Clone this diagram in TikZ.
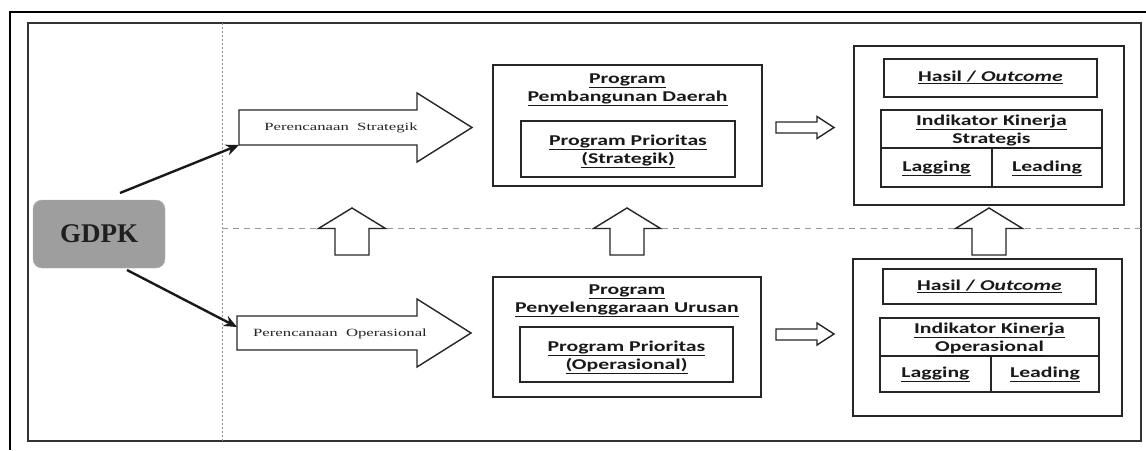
\documentclass[tikz,border=0pt]{standalone}
\usepackage{fontspec}
\setmainfont{Carlito}
\newfontfamily\serifface{Liberation Serif}
\usepackage{graphicx}
\usetikzlibrary{arrows.meta,calc,fit}

% horizontally widened, centred block of lines
\newcommand\wideblock[2]{\scalebox{#1}[1]{\begin{tabular}{@{}c@{}}#2\end{tabular}}}
\newcommand\uln[1]{\underline{#1}}

\begin{document}
\begin{tikzpicture}[x=1pt,y=-1pt,
  every node/.style={inner sep=0pt, outer sep=0pt},
  frame/.style={draw=black!85, line width=1.5pt},
  blk/.style={draw=black!85, line width=1.4pt, fill=white, line join=miter},
  conn/.style={draw=black!90, line width=2.4pt, -{Stealth[length=13pt,width=11pt]}},
  lbl/.style={font=\fontsize{15}{18}\selectfont\bfseries, text=black!90},
  slbl/.style={font=\serifface\fontsize{11}{12}\selectfont, text=black!85},
]
\useasboundingbox (0,0) rectangle (1146,450);
\fill[white] (0,0) rectangle (1146,450);

% outer and inner frames
\draw[black, line width=2.2pt] (1146,12) -- (10,12) -- (10,450);
\draw[black!80, line width=1.2pt] (28,23) rectangle (1141,441);

% guide lines
\draw[black!45, line width=0.6pt, dash pattern=on 2pt off 2pt] (222,23) -- (222,441);
\draw[black!40, line width=0.8pt, dash pattern=on 6pt off 5pt] (222,228.5) -- (1141,228.5);

% GDPK
\node[draw=black!30, fill=black!38, rounded corners=9pt, minimum width=132pt, minimum height=68pt,
      font=\serifface\bfseries\fontsize{27}{30}\selectfont, text=black!88] (gdpk) at (99,234) {GDPK};

% planning block arrows
\draw[blk] (239,110) -- (417,110) -- (417,93) -- (472,127.5) -- (417,162) -- (417,145) -- (239,145) -- cycle;
\draw[blk] (237,316) -- (417,316) -- (417,299) -- (471,333) -- (417,367) -- (417,350) -- (237,350) -- cycle;
\coordinate (ps) at (239,145);
\coordinate (po) at (237,327);
\node[slbl] (pstext) at (341,128) {\wideblock{1.52}{Perencanaan\ \ Strategik}};
\node[slbl] (potext) at (340,334) {\wideblock{1.52}{Perencanaan\ \ Operasional}};

\draw[conn] ($(gdpk.north)+(21,-7)$) -- (ps);
\draw[conn] ($(gdpk.south)+(28,2)$) -- (po);

% programme boxes
\node[frame, fit={(493,65) (762,186)}] (pb1) {};
\node[frame, fit={(521,121) (735,177)}] (pp1) {};
\node[lbl] (pb1t) at (627.5,89) {\wideblock{1.45}{\uln{Program}\\\uln{Pembangunan Daerah}}};
\node[lbl] (pp1t) at (628,151) {\wideblock{1.45}{\uln{Program Prioritas}\\\uln{(Strategik)}}};

\node[frame, fit={(493,277) (761,397)}] (pb2) {};
\node[frame, fit={(520,327) (733,382)}] (pp2) {};
\node[lbl] (pb2t) at (627,300) {\wideblock{1.45}{\uln{Program}\\\uln{Penyelenggaraan Urusan}}};
\node[lbl] (pp2t) at (626.5,356.5) {\wideblock{1.45}{\uln{Program Prioritas}\\\uln{(Operasional)}}};

% small arrows towards the results
\draw[blk] (776,122) -- (817,122) -- (817,116.5) -- (834,127.5) -- (817,138.5) -- (817,133) -- (776,133) -- cycle;
\draw[blk] (776,329) -- (817,329) -- (817,323) -- (834,334) -- (817,345) -- (817,340) -- (776,340) -- cycle;

% results: strategic
\node[frame, fit={(854,46) (1124,205)}] (rs) {};
\node[frame, fit={(884,59) (1097,97)}] (hs) {};
\node[frame, fit={(881,110) (1102,148)}] (ks) {};
\node[frame, fit={(881,148) (992,187)}] (lgs) {};
\node[frame, fit={(992,148) (1102,187)}] (lds) {};
\node[lbl] at (hs) {\wideblock{1.45}{\uln{Hasil / \textit{Outcome}}}};
\node[lbl] at ($(ks)+(0,2)$) {\wideblock{1.45}{\fontsize{15}{16.5}\selectfont\uln{Indikator Kinerja}\\\uln{Strategis}}};
\node[lbl] at (lgs) {\wideblock{1.45}{\uln{Lagging}}};
\node[lbl] at (lds) {\wideblock{1.45}{\uln{Leading}}};

% results: operational
\node[frame, fit={(853,259) (1122,416)}] (ro) {};
\node[frame, fit={(883,269) (1096,304)}] (ho) {};
\node[frame, fit={(880,318) (1099,356)}] (ko) {};
\node[frame, fit={(880,356) (991,392)}] (lgo) {};
\node[frame, fit={(991,356) (1099,392)}] (ldo) {};
\node[lbl] at (ho) {\wideblock{1.45}{\uln{Hasil / \textit{Outcome}}}};
\node[lbl] at ($(ko)+(0,2)$) {\wideblock{1.45}{\fontsize{15}{16.5}\selectfont\uln{Indikator Kinerja}\\\uln{Operasional}}};
\node[lbl] at (lgo) {\wideblock{1.45}{\uln{Lagging}}};
\node[lbl] at (ldo) {\wideblock{1.45}{\uln{Leading}}};

% upward arrows across the divide
\foreach \cx in {352,627,989}{
  \draw[blk] (\cx-17,255) -- (\cx-17,228.5) -- (\cx-33.5,228.5) -- (\cx,208)
             -- (\cx+33.5,228.5) -- (\cx+17,228.5) -- (\cx+17,255) -- cycle;
}
\end{tikzpicture}
\end{document}
